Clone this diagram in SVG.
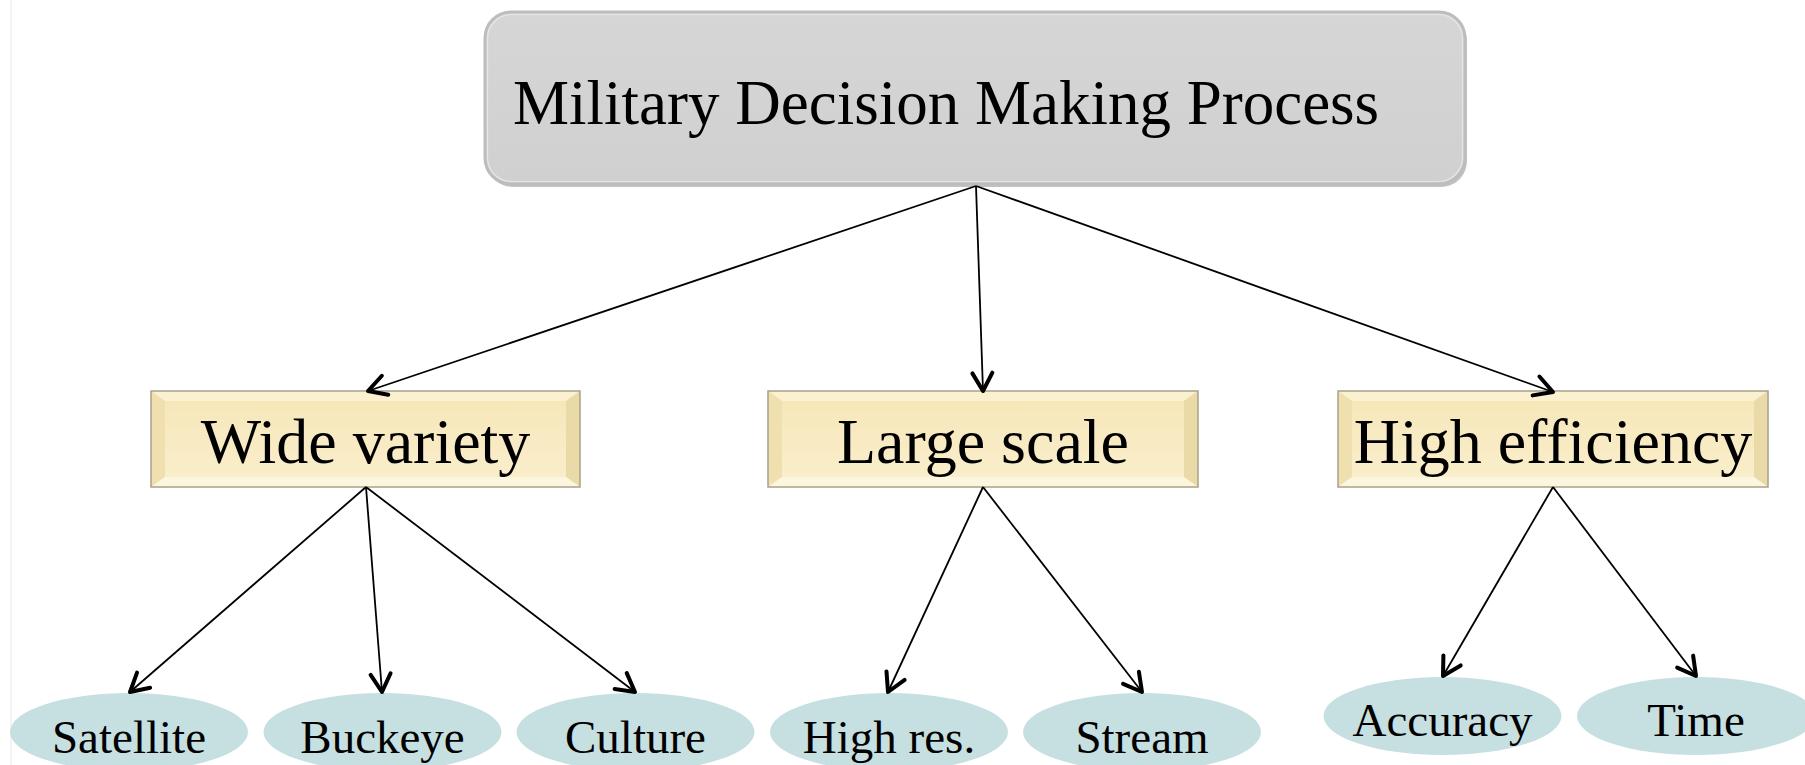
<svg xmlns="http://www.w3.org/2000/svg" width="1805" height="765" viewBox="0 0 1805 765">
  <style>
    .title { font-family: "Liberation Serif", "Times New Roman", serif; font-size: 63px; fill: #000; }
    .cat { font-family: "Liberation Serif", "Times New Roman", serif; font-size: 64px; fill: #000; text-anchor: middle; }
    .leaf-shape { fill: #c6dfe1; }
    .leaf-text { font-family: "Liberation Serif", "Times New Roman", serif; font-size: 47px; fill: #000; text-anchor: middle; }
    .edge { stroke: #000; stroke-width: 1.8; fill: none; marker-end: url(#arrow); }
    .face { fill: url(#faceGrad); }
    .bev-top { fill: #fbf0cf; }
    .bev-left { fill: #f0e0b0; }
    .bev-right { fill: #eadaa8; }
    .bev-bottom { fill: #fdf6de; }
    .bev-edge { fill: none; stroke: #a8a08a; stroke-width: 1.5; }
  </style>
  <defs>
    <marker id="arrow" markerUnits="userSpaceOnUse" viewBox="-4 -14 26 28" markerWidth="26" markerHeight="28" refX="18" refY="0" orient="auto">
      <path d="M0,-10 L18,0 L0,10" fill="none" stroke="#000" stroke-width="4" stroke-linecap="round" stroke-linejoin="round"/>
    </marker>
    <linearGradient id="faceGrad" x1="0" y1="0" x2="0" y2="1">
      <stop offset="0" stop-color="#f6e6b8"/>
      <stop offset="1" stop-color="#faefcd"/>
    </linearGradient>
    <linearGradient id="greyGrad" x1="0" y1="0" x2="0" y2="1">
      <stop offset="0" stop-color="#d6d6d6"/>
      <stop offset="1" stop-color="#d0d0d0"/>
    </linearGradient>
  </defs>

  <rect x="0" y="0" width="1805" height="765" fill="#ffffff"/>
  <line x1="11" y1="0" x2="11" y2="765" stroke="#efefef" stroke-width="1.5"/>

  <!-- top process box -->
  <g id="mdmp">
    <rect x="487" y="15" width="980" height="172" rx="26" fill="#8f8f8f" opacity="0.55"/>
    <rect x="485" y="12" width="980" height="172" rx="26" fill="url(#greyGrad)" stroke="#bdbdbd" stroke-width="3"/>
    <rect x="487.5" y="14.5" width="975" height="167" rx="24" fill="none" stroke="#e6e6e6" stroke-width="1.2"/>
    <text class="title" x="513" y="124">Military Decision Making Process</text>
  </g>

  <!-- category boxes (bevelled) -->
  <g id="wide-variety">
    <rect class="face" x="151" y="391" width="429" height="96"/>
    <polygon class="bev-top" points="151,391 580,391 566,401 165,401"/>
    <polygon class="bev-left" points="151,391 165,401 165,477 151,487"/>
    <polygon class="bev-right" points="580,391 566,401 566,477 580,487"/>
    <polygon class="bev-bottom" points="151,487 165,477 566,477 580,487"/>
    <rect class="bev-edge" x="151" y="391" width="429" height="96"/>
    <text class="cat" x="365.5" y="463">Wide variety</text>
  </g>

  <g id="large-scale">
    <rect class="face" x="768" y="391" width="430" height="96"/>
    <polygon class="bev-top" points="768,391 1198,391 1184,401 782,401"/>
    <polygon class="bev-left" points="768,391 782,401 782,477 768,487"/>
    <polygon class="bev-right" points="1198,391 1184,401 1184,477 1198,487"/>
    <polygon class="bev-bottom" points="768,487 782,477 1184,477 1198,487"/>
    <rect class="bev-edge" x="768" y="391" width="430" height="96"/>
    <text class="cat" x="983" y="463">Large scale</text>
  </g>

  <g id="high-efficiency">
    <rect class="face" x="1338" y="391" width="430" height="96"/>
    <polygon class="bev-top" points="1338,391 1768,391 1754,401 1352,401"/>
    <polygon class="bev-left" points="1338,391 1352,401 1352,477 1338,487"/>
    <polygon class="bev-right" points="1768,391 1754,401 1754,477 1768,487"/>
    <polygon class="bev-bottom" points="1338,487 1352,477 1754,477 1768,487"/>
    <rect class="bev-edge" x="1338" y="391" width="430" height="96"/>
    <text class="cat" x="1553" y="463">High efficiency</text>
  </g>

  <!-- leaf ellipses -->
  <g id="satellite">
    <ellipse class="leaf-shape" cx="129" cy="732" rx="119" ry="39"/>
    <text class="leaf-text" x="129" y="753">Satellite</text>
  </g>
  <g id="buckeye">
    <ellipse class="leaf-shape" cx="382.5" cy="732" rx="119" ry="39"/>
    <text class="leaf-text" x="382.5" y="753">Buckeye</text>
  </g>
  <g id="culture">
    <ellipse class="leaf-shape" cx="635.5" cy="732" rx="119" ry="39"/>
    <text class="leaf-text" x="635.5" y="753">Culture</text>
  </g>
  <g id="high-res">
    <ellipse class="leaf-shape" cx="889" cy="732" rx="119" ry="39"/>
    <text class="leaf-text" x="889" y="753">High res.</text>
  </g>
  <g id="stream">
    <ellipse class="leaf-shape" cx="1142" cy="732" rx="119" ry="39"/>
    <text class="leaf-text" x="1142" y="753">Stream</text>
  </g>
  <g id="accuracy">
    <ellipse class="leaf-shape" cx="1442.5" cy="716" rx="119" ry="39"/>
    <text class="leaf-text" x="1442.5" y="736">Accuracy</text>
  </g>
  <g id="time">
    <ellipse class="leaf-shape" cx="1696" cy="716" rx="119" ry="39"/>
    <text class="leaf-text" x="1696" y="736">Time</text>
  </g>

  <!-- connectors -->
  <g id="connectors">
    <line class="edge" x1="976" y1="186" x2="368" y2="391"/>
    <line class="edge" x1="976" y1="186" x2="983" y2="391"/>
    <line class="edge" x1="976" y1="186" x2="1553" y2="392"/>
    <line class="edge" x1="366" y1="487" x2="130" y2="692"/>
    <line class="edge" x1="366" y1="487" x2="382" y2="692"/>
    <line class="edge" x1="366" y1="487" x2="635" y2="692"/>
    <line class="edge" x1="983" y1="487" x2="888" y2="692"/>
    <line class="edge" x1="983" y1="487" x2="1142" y2="692"/>
    <line class="edge" x1="1553" y1="487" x2="1443" y2="676"/>
    <line class="edge" x1="1553" y1="487" x2="1696" y2="676"/>
  </g>
</svg>
